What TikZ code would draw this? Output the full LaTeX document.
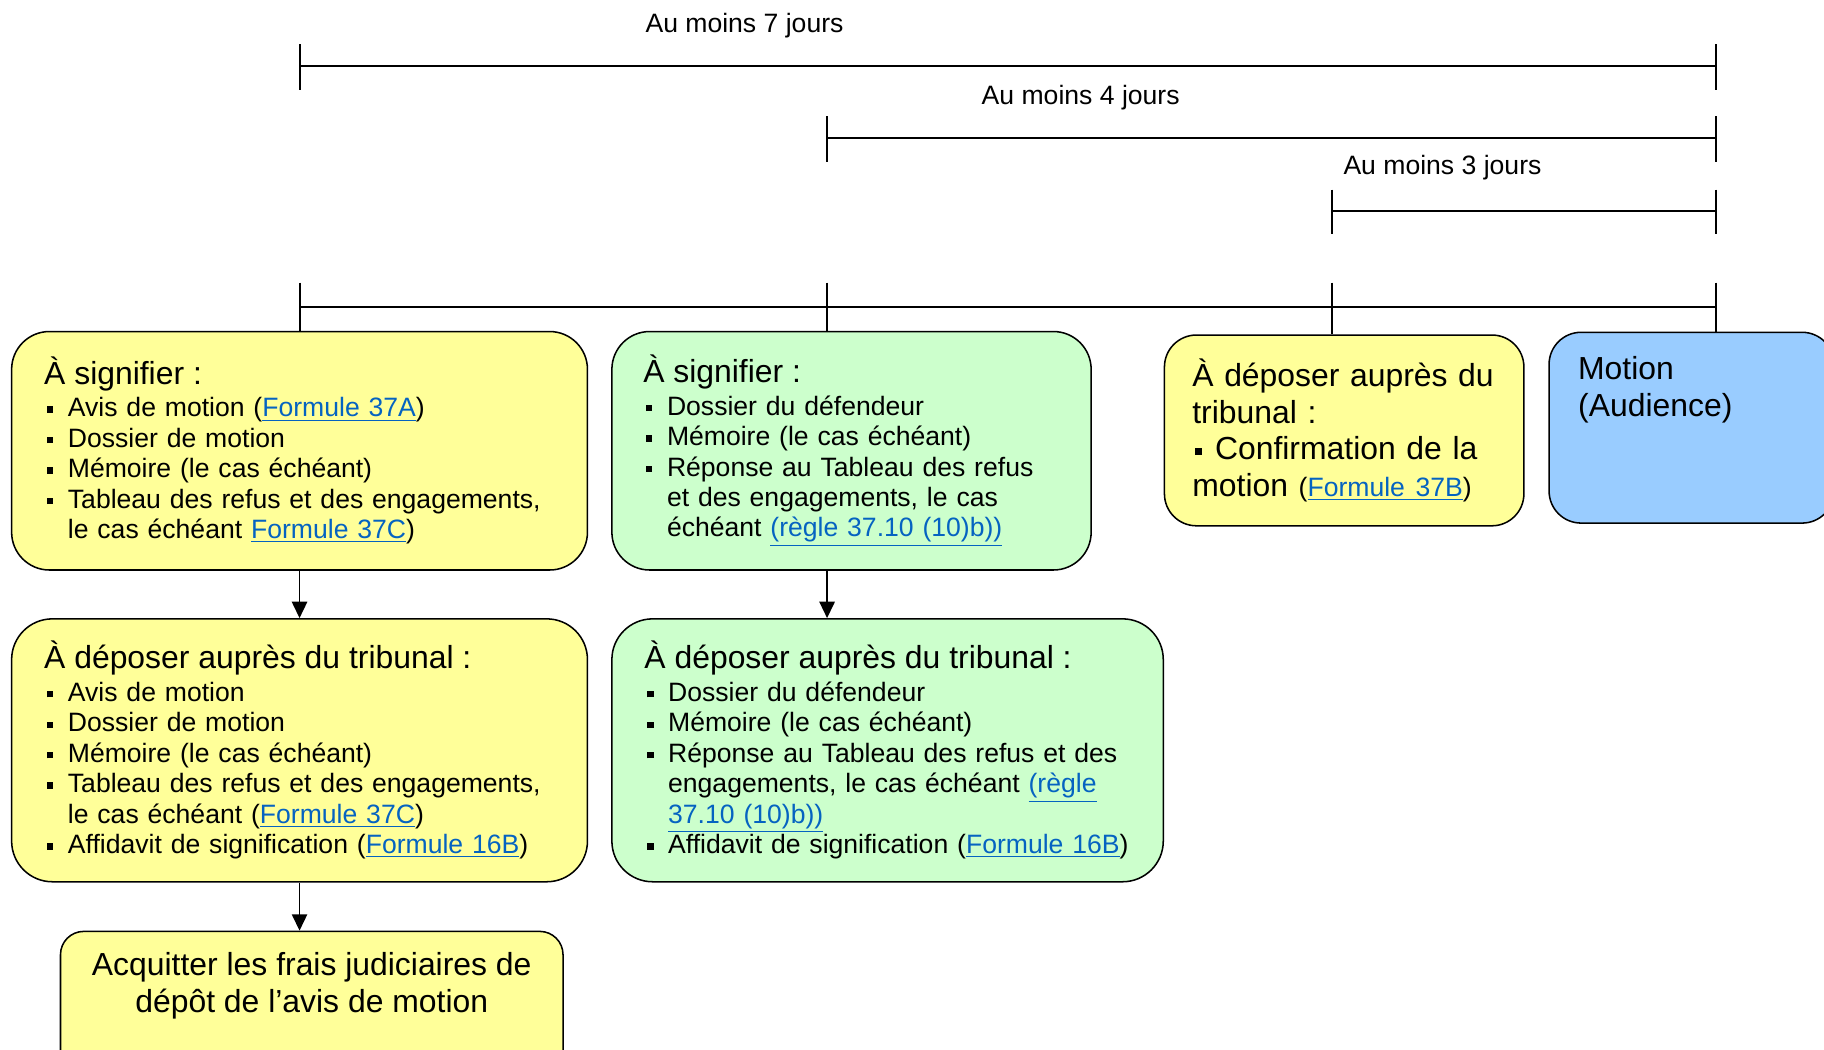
\documentclass[tikz,border=0pt]{standalone}
\usepackage{fontspec}
\setmainfont{Liberation Sans}
\usepackage{tikz}
\usetikzlibrary{positioning,arrows.meta,calc}

\definecolor{jaune}{HTML}{FFFF99}
\definecolor{vert}{HTML}{CCFFCC}
\definecolor{bleu}{HTML}{99CCFF}
\definecolor{bleulien}{HTML}{0563C1}

\newcommand{\fgrand}{\fontsize{15.6}{18}\selectfont}
\newcommand{\fcorps}{\fontsize{13}{14.9}\selectfont}
\newcommand{\lien}[1]{{\color{bleulien}\underline{#1}}}
\newlength{\pucew}
\setlength{\pucew}{11.6pt}
\newcommand{\puce}{\makebox[\pucew][l]{\hspace{1.4pt}\rule[2pt]{3.1pt}{3.1pt}}}
\newcommand{\suite}{\hspace*{\pucew}}

\begin{document}
\begin{tikzpicture}[font=\fcorps,
                    boite/.style={draw,line width=0.75pt},
                    barre/.style={line width=1pt},
                    trait/.style={line width=0.8pt},
                    fleche/.style={-{Triangle[length=8pt,width=7.5pt]},line width=0.8pt}]
  \useasboundingbox (0,0) rectangle (31.36,-18.04);

  % delais
  \node (j7) at (12.8,-0.44) {Au moins 7 jours};
  \node (j4) at (18.58,-1.68) {Au moins 4 jours};
  \node (j3) at (24.8,-2.88) {Au moins 3 jours};

  \draw[barre] (5.16,-1.14) -- (29.5,-1.14);
  \draw[trait] (5.16,-0.76) -- (5.16,-1.54);
  \draw[trait] (29.5,-0.76) -- (29.5,-1.54);

  \draw[barre] (14.22,-2.38) -- (29.5,-2.38);
  \draw[trait] (14.22,-2.0) -- (14.22,-2.78);
  \draw[trait] (29.5,-2.0) -- (29.5,-2.78);

  \draw[barre] (22.9,-3.62) -- (29.5,-3.62);
  \draw[trait] (22.9,-3.26) -- (22.9,-4.02);
  \draw[trait] (29.5,-3.26) -- (29.5,-4.02);

  \coordinate (t1) at (5.16,-4.86);
  \coordinate (t2) at (14.22,-4.86);
  \coordinate (t3) at (22.9,-4.86);
  \coordinate (t4) at (29.5,-4.86);
  \draw[barre] (5.16,-5.28) -- (29.5,-5.28);

  % boites
  \node[boite,fill=jaune,rounded corners=0.65cm,align=left,text width=8.78cm,inner xsep=0.56cm,
        minimum height=4.1cm] (signA) at (5.15,-7.75)
    {{\fgrand À signifier :}\\[1pt]
     \puce Avis de motion (\lien{Formule 37A})\\
     \puce Dossier de motion\\
     \puce Mémoire (le cas échéant)\\
     \puce Tableau des refus et des engagements,\\
     \suite le cas échéant \lien{Formule 37C})\rule[-3pt]{0pt}{3pt}};

  \node[boite,fill=vert,rounded corners=0.65cm,align=left,text width=7.16cm,inner xsep=0.54cm,
        minimum height=4.1cm] (signB) at (14.64,-7.75)
    {{\fgrand À signifier :}\\[1pt]
     \puce Dossier du défendeur\\
     \puce Mémoire (le cas échéant)\\
     \puce Réponse au Tableau des refus\\
     \suite et des engagements, le cas\\
     \suite échéant \lien{(règle 37.10 (10)b))}\rule[-3pt]{0pt}{3pt}};

  \node[boite,fill=jaune,rounded corners=0.55cm,align=left,text width=5.22cm,inner xsep=0.48cm,
        minimum height=3.28cm,font=\fgrand] (depC) at (23.11,-7.4)
    {À déposer auprès du\\
     tribunal :\\
     \hspace*{1.5pt}\rule[2.4pt]{3.2pt}{3.2pt}\hspace{6.4pt}Confirmation de la\\
     motion {\fcorps(\lien{Formule 37B})}\rule[-2pt]{0pt}{2pt}};

  \node[boite,fill=bleu,rounded corners=0.55cm,anchor=north west,inner xsep=0.5cm,
        inner ysep=0.42cm] (audience) at (26.62,-5.7)
    {\parbox[c][2.44cm][t]{3.9cm}{\fgrand Motion\\(Audience)}};

  \node[boite,fill=jaune,rounded corners=0.7cm,align=left,text width=8.78cm,inner xsep=0.56cm,
        minimum height=4.52cm] (depA) at (5.15,-12.9)
    {{\fgrand À déposer auprès du tribunal :}\\[1pt]
     \puce Avis de motion\\
     \puce Dossier de motion\\
     \puce Mémoire (le cas échéant)\\
     \puce Tableau des refus et des engagements,\\
     \suite le cas échéant (\lien{Formule 37C})\\
     \puce Affidavit de signification (\lien{Formule 16B})};

  \node[boite,fill=vert,rounded corners=0.7cm,align=left,text width=8.36cm,inner xsep=0.56cm,
        minimum height=4.52cm] (depB) at (15.26,-12.9)
    {{\fgrand À déposer auprès du tribunal :}\\[1pt]
     \puce Dossier du défendeur\\
     \puce Mémoire (le cas échéant)\\
     \puce Réponse au Tableau des refus et des\\
     \suite engagements, le cas échéant \lien{(règle}\\
     \suite \lien{37.10 (10)b))}\\
     \puce Affidavit de signification (\lien{Formule 16B})};

  \node[boite,fill=jaune,rounded corners=0.4cm,anchor=north,inner xsep=0.42cm,
        inner ysep=0.36cm] (frais) at (5.36,-16.0)
    {\parbox[c][2.34cm][t]{7.8cm}{\centering\fgrand Acquitter les frais judiciaires de\\
     dépôt de l’avis de motion}};

  % liaisons
  \draw[trait] (t1) -- (t1 |- signA.north);
  \draw[trait] (t2) -- (t2 |- signB.north);
  \draw[trait] (t3) -- (t3 |- depC.north);
  \draw[trait] (t4) -- (t4 |- audience.north);
  \draw[fleche] (signA.south) -- (signA.south |- depA.north);
  \draw[fleche] (t2 |- signB.south) -- (t2 |- depB.north);
  \draw[fleche] (depA.south) -- (depA.south |- frais.north);
\end{tikzpicture}
\end{document}
